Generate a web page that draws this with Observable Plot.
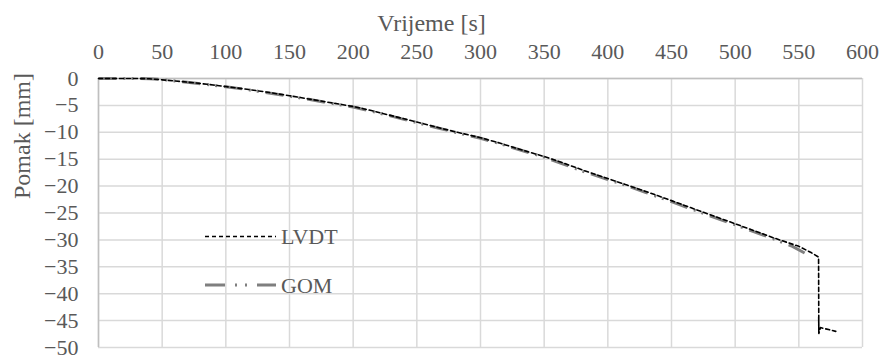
<!DOCTYPE html>
<html>
<head>
<meta charset="utf-8">
<script src="https://cdn.jsdelivr.net/npm/d3@7"></script>
<script src="https://cdn.jsdelivr.net/npm/@observablehq/plot@0.6"></script>
</head>
<body style="margin:0">
<div id="chart" style="position:relative;width:883px;height:357px"></div>
<script>
// Displacement over time: LVDT transducer vs. GOM optical measurement
const lvdtTime = [0, 10, 20, 30, 40, 50, 60, 75, 90, 100, 115, 130, 150, 165, 180, 200, 215, 230, 250, 265, 280, 300, 315, 330, 350, 365, 380, 400, 415, 430, 450, 465, 480, 500, 515, 530, 550, 560, 565.5, 565.7, 565.6, 565.7, 567, 579];
const lvdtDisp = [0, 0, 0, 0, -0.05, -0.25, -0.45, -0.8, -1.2, -1.5, -1.95, -2.45, -3.2, -3.8, -4.4, -5.2, -6.0, -6.9, -8.1, -9.0, -9.9, -11.0, -12.0, -13.1, -14.5, -15.7, -17.0, -18.6, -19.8, -21.0, -22.7, -24.0, -25.3, -27.0, -28.3, -29.6, -31.2, -32.4, -33.2, -47.4, -44.3, -47.4, -46.3, -47.0];

const gomTime = [0, 10, 20, 30, 40, 50, 60, 75, 90, 100, 115, 130, 150, 165, 180, 200, 215, 230, 250, 265, 280, 300, 315, 330, 350, 365, 380, 400, 415, 430, 450, 465, 480, 500, 515, 530, 545, 555];
const gomDisp = [0, 0, 0, 0, -0.05, -0.2, -0.45, -0.85, -1.25, -1.55, -2.0, -2.55, -3.3, -3.85, -4.5, -5.3, -6.1, -7.0, -8.2, -9.1, -10.0, -11.1, -12.1, -13.2, -14.6, -15.9, -17.2, -18.8, -19.9, -21.2, -22.9, -24.2, -25.5, -27.2, -28.5, -29.8, -31.2, -32.5];

const xTicks = [0, 50, 100, 150, 200, 250, 300, 350, 400, 450, 500, 550, 600];
const yTicks = [0, -5, -10, -15, -20, -25, -30, -35, -40, -45, -50];

const xTitle = "Vrijeme [s]";
const yTitle = "Pomak [mm]";
const seriesNames = ["LVDT", "GOM"];

const lvdt = lvdtTime.map((t, i) => ({t, d: lvdtDisp[i]}));
const gom = gomTime.map((t, i) => ({t, d: gomDisp[i]}));

const textColor = "#595959";
const gomDash = "18,7,2,6,2,7";
const lvdtDash = "4,3";

const chart = Plot.plot({
  width: 883,
  height: 357,
  marginTop: 78,
  marginLeft: 98,
  marginRight: 21,
  marginBottom: 10,
  style: {fontFamily: "Liberation Serif", fontSize: "22px"},
  x: {domain: [0, 600]},
  y: {domain: [-50, 0]},
  marks: [
    Plot.gridX(xTicks, {stroke: "#d9d9d9", strokeOpacity: 1, strokeWidth: 1.5}),
    Plot.gridY(yTicks, {stroke: "#d9d9d9", strokeOpacity: 1, strokeWidth: 1.5}),
    Plot.ruleX([0], {stroke: "#bfbfbf", strokeWidth: 1.5}),
    Plot.ruleY([0], {stroke: "#bfbfbf", strokeWidth: 1.5}),
    Plot.axisX(xTicks, {anchor: "top", tickSize: 0, tickPadding: 20, label: null, fill: textColor, fontSize: 22}),
    Plot.axisY(yTicks, {anchor: "left", tickSize: 0, tickPadding: 20, label: null, fill: textColor, fontSize: 22}),
    Plot.text([xTitle], {frameAnchor: "top", dx: -49, dy: -48, fill: textColor, fontSize: 24, lineAnchor: "bottom"}),
    Plot.text([yTitle], {frameAnchor: "left", dx: -76, dy: -14, rotate: -90, fill: textColor, fontSize: 24}),
    Plot.line(gom, {x: "t", y: "d", stroke: "#7f7f7f", strokeWidth: 3, strokeDasharray: gomDash, strokeLinecap: "butt"}),
    Plot.line(lvdt, {x: "t", y: "d", stroke: "#000", strokeWidth: 1.6, strokeDasharray: lvdtDash})
  ]
});

const root = document.getElementById("chart");
root.appendChild(chart);

// Legend drawn inside the plot area
const ns = "http://www.w3.org/2000/svg";
const leg = document.createElementNS(ns, "svg");
leg.setAttribute("width", 883);
leg.setAttribute("height", 357);
leg.style.cssText = "position:absolute;left:0;top:0";
const items = [
  {name: seriesNames[0], y: 236.5, stroke: "#000", width: 1.6, dash: lvdtDash},
  {name: seriesNames[1], y: 285, stroke: "#7f7f7f", width: 3, dash: "20,10,2,8,2,10"}
];
for (const it of items) {
  const ln = document.createElementNS(ns, "line");
  ln.setAttribute("x1", 205); ln.setAttribute("x2", 276);
  ln.setAttribute("y1", it.y); ln.setAttribute("y2", it.y);
  ln.setAttribute("stroke", it.stroke);
  ln.setAttribute("stroke-width", it.width);
  ln.setAttribute("stroke-dasharray", it.dash);
  leg.appendChild(ln);
  const tx = document.createElementNS(ns, "text");
  tx.setAttribute("x", 281);
  tx.setAttribute("y", it.y + 7.5);
  tx.setAttribute("fill", textColor);
  tx.setAttribute("font-family", "Liberation Serif");
  tx.setAttribute("font-size", 22);
  tx.textContent = it.name;
  leg.appendChild(tx);
}
root.appendChild(leg);
</script>
</body>
</html>
